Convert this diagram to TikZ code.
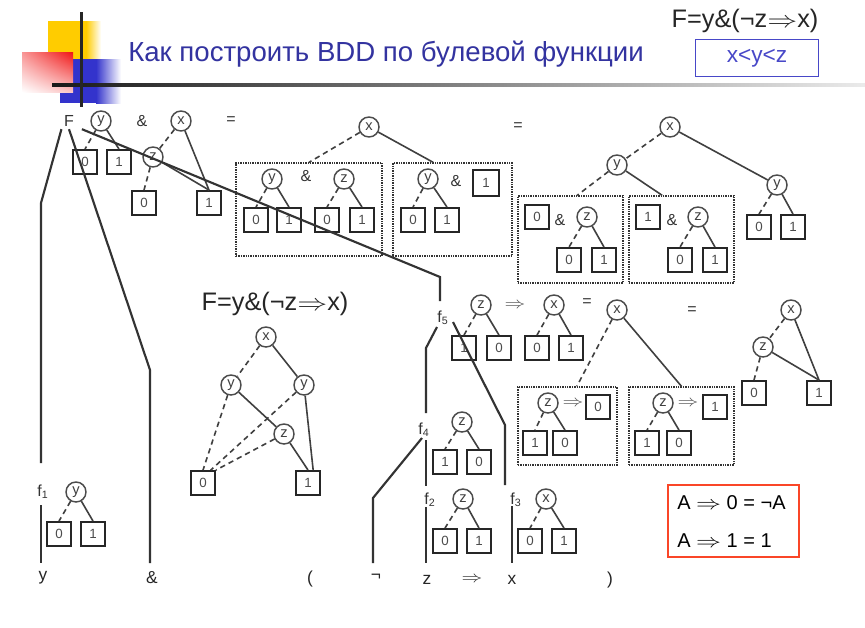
\documentclass[tikz,border=0pt]{standalone}
\usepackage{fontspec}
\usepackage{graphicx}
\setmainfont{Liberation Sans}
\usetikzlibrary{fit,calc,shadings}
\newcommand\imp{\scalebox{1.3}[1]{\ensuremath{\Rightarrow}}}
\definecolor{logoyellow}{RGB}{255,204,0}
\definecolor{logoblue}{RGB}{51,51,204}
\definecolor{logored}{RGB}{240,20,20}
\definecolor{titleblue}{RGB}{51,51,160}
\definecolor{ordblue}{RGB}{72,72,200}
\definecolor{rulered}{RGB}{250,70,40}
\tikzset{
  vnode/.style={circle, draw=black!70, line width=1.1pt, minimum size=15pt, inner sep=0pt,
    font=\fontsize{11}{11}\selectfont, text=black!75},
  leaf/.style={rectangle, draw=black!85, line width=1.4pt, minimum size=18pt, inner sep=0pt,
    font=\fontsize{10}{10}\selectfont, text=black!70},
  lo/.style={draw=black!75, line width=1.2pt, dash pattern=on 4pt off 3pt},
  hi/.style={draw=black!75, line width=1.2pt},
  op/.style={font=\fontsize{12}{12}\selectfont, text=black!80, inner sep=1pt},
  impop/.style={font=\fontsize{13}{13}\selectfont, text=black!70, inner sep=1pt},
  dotbox/.style={draw=black!80, line width=1pt, dash pattern=on 1pt off 0.8pt, inner sep=0pt},
  wire/.style={draw=black!80, line width=1.6pt},
  flab/.style={font=\fontsize{12}{12}\selectfont, text=black!80, inner sep=1pt, outer sep=1pt},
  btxt/.style={font=\fontsize{13}{13}\selectfont, text=black!85, inner sep=1pt},
  formula/.style={font=\fontsize{19}{19}\selectfont, text=black!85, inner sep=1pt},
}
\begin{document}
\begin{tikzpicture}[x=0.75pt,y=-0.75pt]
\useasboundingbox (0,0) rectangle (865,628);
\fill[white] (0,0) rectangle (865,628);

% ---- logo and header rules
\fill[logoyellow] (48,21) rectangle (86,59);
\shade[left color=logoyellow, right color=white] (86,21) rectangle (101,59);
\fill[logoblue] (60,59) rectangle (96,103);
\shade[left color=logoblue, right color=white] (96,59) rectangle (121,103);
\shade[upper left=logored!45, upper right=logored, lower left=white, lower right=logored!25]
  (22,52) rectangle (73,92);
\shade[left color=black!90, right color=black!8] (52,83.5) rectangle (865,86.5);
\fill[black!85] (79.5,12) rectangle (82.5,107);

\node[font=\fontsize{20.7}{20.7}\selectfont, text=titleblue] (title) at (386,54)
  {Как построить BDD по булевой функции};
\node[formula] (fml) at (745,21) {F=y\&(¬z\imp x)};
\node[draw=ordblue, line width=1.2pt, minimum width=92pt, minimum height=27.5pt,
  text=ordblue, font=\fontsize{17}{17}\selectfont] (ord) at (757,58) {x<y<z};

% ---- top row: F = y & x
\node[flab] (F) at (69,121) {F};
\node[vnode] (ya) at (101,121) {y};
\node[op] (amp1) at (142,121) {\&};
\node[vnode] (xa) at (181,121) {x};
\node[op] (eq1) at (231,121) {=};
\node[leaf] (a0) at (85,162) {0};
\node[leaf] (a1) at (119,162) {1};
\node[vnode] (za) at (153,157) {z};
\node[leaf] (b0) at (144,203) {0};
\node[leaf] (b1) at (209,203) {1};
\draw[lo] (ya) -- (a0.north);
\draw[hi] (ya) -- (a1.north);
\draw[lo] (xa) -- (za);
\draw[hi] (xa) -- (b1.north);
\draw[lo] (za) -- (b0.north);
\draw[hi] (za) -- (b1.north);

% ---- second stage
\node[vnode] (xb) at (369,127) {x};
\node[dotbox, fit={(236,163) (382,256)}] (d1) {};
\node[dotbox, fit={(393,163) (512,256)}] (d2) {};
\draw[lo] (xb) -- (d1.north);
\draw[hi] (xb) -- ([xshift=-14.5pt]d2.north);
\node[vnode] (yc) at (272,179) {y};
\node[op] (amp2) at (306,176) {\&};
\node[vnode] (zc) at (344,179) {z};
\node[leaf] (c0) at (256,220) {0};
\node[leaf] (c1) at (289,220) {1};
\node[leaf] (c2) at (327,220) {0};
\node[leaf] (c3) at (362,220) {1};
\draw[lo] (yc) -- (c0.north);
\draw[hi] (yc) -- (c1.north);
\draw[lo] (zc) -- (c2.north);
\draw[hi] (zc) -- (c3.north);
\node[vnode] (yd) at (428,179) {y};
\node[op] (amp3) at (456,181) {\&};
\node[leaf, minimum size=20pt] (e1) at (486,183) {1};
\node[leaf] (e0a) at (413,220) {0};
\node[leaf] (e1a) at (447,220) {1};
\draw[lo] (yd) -- (e0a.north);
\draw[hi] (yd) -- (e1a.north);
\node[op] (eq2) at (518,127) {=};

% ---- third stage
\node[vnode] (xe) at (670,127) {x};
\node[vnode] (yf) at (617,165) {y};
\node[vnode] (yg) at (777,185) {y};
\node[dotbox, fit={(518,196) (623,283)}] (d3) {};
\node[dotbox, fit={(629,196) (734,283)}] (d4) {};
\draw[lo] (xe) -- (yf);
\draw[hi] (xe) -- (yg);
\draw[lo] (yf) -- ([xshift=5pt]d3.north);
\draw[hi] (yf) -- ([xshift=-14.5pt]d4.north);
\node[leaf] (f0) at (537,217) {0};
\node[op] (amp4) at (560,220) {\&};
\node[vnode] (zf) at (587,217) {z};
\node[leaf] (g0) at (569,260) {0};
\node[leaf] (g1) at (604,260) {1};
\draw[lo] (zf) -- (g0.north);
\draw[hi] (zf) -- (g1.north);
\node[leaf] (h1) at (648,217) {1};
\node[op] (amp5) at (672,220) {\&};
\node[vnode] (zg) at (698,217) {z};
\node[leaf] (h0a) at (680,260) {0};
\node[leaf] (h1a) at (715,260) {1};
\draw[lo] (zg) -- (h0a.north);
\draw[hi] (zg) -- (h1a.north);
\node[leaf] (i0) at (759,227) {0};
\node[leaf] (i1) at (793,227) {1};
\draw[lo] (yg) -- (i0.north);
\draw[hi] (yg) -- (i1.north);

% ---- middle row: z => x
\node[flab] (f5) at (443,318) {f\textsubscript{5}};
\node[vnode] (zh) at (481,305) {z};
\node[impop] (imp1) at (515,306) {\imp};
\node[vnode] (xh) at (554,305) {x};
\node[op] (eq3) at (587,303) {=};
\node[leaf] (j1) at (464,348) {1};
\node[leaf] (j0) at (499,348) {0};
\node[leaf] (k0) at (537,348) {0};
\node[leaf] (k1) at (571,348) {1};
\draw[lo] (zh) -- (j1.north);
\draw[hi] (zh) -- (j0.north);
\draw[lo] (xh) -- (k0.north);
\draw[hi] (xh) -- (k1.north);

\node[vnode] (xi) at (617,310) {x};
\node[dotbox, fit={(518,387) (617,465)}] (d5) {};
\node[dotbox, fit={(629,387) (734,465)}] (d6) {};
\draw[lo] (xi) -- ([xshift=7pt]d5.north);
\draw[hi] (xi) -- (d6.north);
\node[vnode] (zk) at (548,403) {z};
\node[impop] (imp2) at (573,404) {\imp};
\node[leaf] (r0) at (598,407) {0};
\node[leaf] (s1) at (535,443) {1};
\node[leaf] (s0) at (565,443) {0};
\draw[lo] (zk) -- (s1.north);
\draw[hi] (zk) -- (s0.north);
\node[vnode] (zl) at (663,403) {z};
\node[impop] (imp3) at (688,404) {\imp};
\node[leaf] (r1) at (715,407) {1};
\node[leaf] (t1) at (647,443) {1};
\node[leaf] (t0) at (679,443) {0};
\draw[lo] (zl) -- (t1.north);
\draw[hi] (zl) -- (t0.north);

\node[op] (eq4) at (692,311) {=};
\node[vnode] (xj) at (791,310) {x};
\node[vnode] (zj) at (763,347) {z};
\node[leaf] (l0) at (754,393) {0};
\node[leaf] (l1) at (819,393) {1};
\draw[lo] (xj) -- (zj);
\draw[hi] (xj) -- (l1.north);
\draw[lo] (zj) -- (l0.north);
\draw[hi] (zj) -- (l1.north);

% ---- not z
\node[flab] (f4) at (424,430) {f\textsubscript{4}};
\node[vnode] (zm) at (462,422) {z};
\node[leaf] (m1) at (445,462) {1};
\node[leaf] (m0) at (479,462) {0};
\draw[lo] (zm) -- (m1.north);
\draw[hi] (zm) -- (m0.north);

% ---- the resulting diagram
\node[formula] (fml2) at (275,304) {F=y\&(¬z\imp x)};
\node[vnode] (xn) at (266,337) {x};
\node[vnode] (yn1) at (231,385) {y};
\node[vnode] (yn2) at (304,385) {y};
\node[vnode] (zn) at (284,434) {z};
\node[leaf] (n0) at (203,483) {0};
\node[leaf] (n1) at (308,483) {1};
\draw[lo] (xn) -- (yn1);
\draw[hi] (xn) -- (yn2);
\draw[lo] (yn1) -- (n0.north);
\draw[hi] (yn1) -- (zn);
\draw[lo] (yn2) -- ($(n0.north)!0.6!(n0.north east)$);
\draw[hi] (yn2) -- ($(n1.north)!0.4!(n1.north east)$);
\draw[lo] (zn) -- (n0.north east);
\draw[hi] (zn) -- (n1.north);

% ---- single variables
\node[flab] (f1) at (43,492) {f\textsubscript{1}};
\node[vnode] (yo) at (76,492) {y};
\node[leaf] (o0) at (59,534) {0};
\node[leaf] (o1) at (93,534) {1};
\draw[lo] (yo) -- (o0.north);
\draw[hi] (yo) -- (o1.north);
\node[flab] (f2) at (430,500) {f\textsubscript{2}};
\node[vnode] (zp) at (463,499) {z};
\node[leaf] (p0) at (445,541) {0};
\node[leaf] (p1) at (479,541) {1};
\draw[lo] (zp) -- (p0.north);
\draw[hi] (zp) -- (p1.north);
\node[flab] (f3) at (516,500) {f\textsubscript{3}};
\node[vnode] (xq) at (546,499) {x};
\node[leaf] (q0) at (530,541) {0};
\node[leaf] (q1) at (564,541) {1};
\draw[lo] (xq) -- (q0.north);
\draw[hi] (xq) -- (q1.north);

% ---- formula along the bottom
\node[btxt] (ty) at (43,578) {y};
\node[btxt] (tamp) at (152,578) {\&};
\node[btxt] (tlp) at (310,579) {(};
\node[btxt] (tneg) at (376,577) {¬};
\node[btxt] (tz) at (427,580) {z};
\node[btxt] (timp) at (472,580) {\imp};
\node[btxt] (tx) at (512,580) {x};
\node[btxt] (trp) at (610,580) {)};

% ---- parse tree wires
\coordinate (w1) at (41,203);
\coordinate (w2) at (150,370);
\coordinate (w3) at (440,277);
\coordinate (w5a) at (426,348);
\coordinate (w5b) at (505,425);
\coordinate (w4) at (373,498);
\draw[wire] (F.south west) -- (w1) -- (41,463) coordinate (w1e);
\draw[wire] (41,505) coordinate (f1s) -- (41,563) coordinate (tye);
\draw[wire] (F.south) -- (w2) -- (150,563) coordinate (tampe);
\draw[wire] ([xshift=4pt]F.south east) -- (w3) -- (440,301) coordinate (f5n);
\draw[wire] (437,327) coordinate (f5sw) -- (w5a) -- (426,413) coordinate (f4n);
\draw[wire] (453,322) coordinate (f5se) -- (w5b) -- (505,485) coordinate (f3n);
\draw[wire] (422,438) coordinate (f4sw) -- (w4) -- (373,563) coordinate (tnege);
\draw[wire] (426,440) coordinate (f4s) -- (426,486) coordinate (f2n);
\draw[wire] (426,507) coordinate (f2s) -- (426,563) coordinate (tze);
\draw[wire] (512,506) coordinate (f3s) -- (512,563) coordinate (txe);

% ---- rule box
\node[draw=rulered, line width=1.5pt, minimum width=98pt, minimum height=54pt, inner sep=0pt]
  (rules) at (733.5,521) {};
\node[font=\fontsize{15}{15}\selectfont, anchor=west, inner sep=0pt] (rule0) at (677,503)
  {A \imp{} 0 = ¬A};
\node[font=\fontsize{15}{15}\selectfont, anchor=west, inner sep=0pt] (rule1) at (677,541)
  {A \imp{} 1 = 1};
\end{tikzpicture}
\end{document}
